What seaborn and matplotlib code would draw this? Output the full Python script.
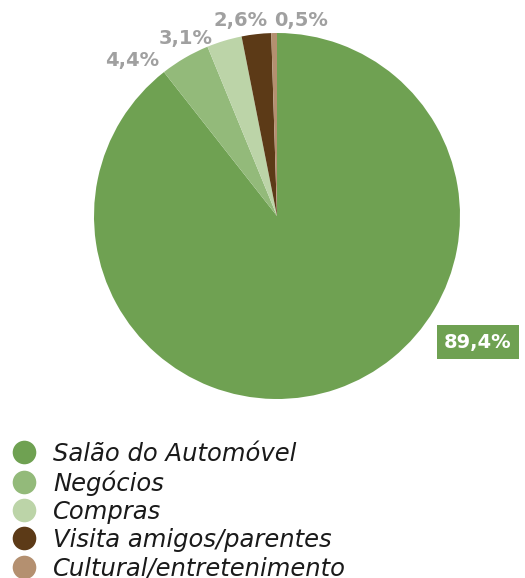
import matplotlib
matplotlib.use('Agg')
import matplotlib.pyplot as plt
from matplotlib.lines import Line2D
import seaborn as sns

# Data
categories = ['Salão do Automóvel', 'Negócios', 'Compras',
              'Visita amigos/parentes', 'Cultural/entretenimento']
shares = [89.4, 4.4, 3.1, 2.6, 0.5]
share_labels = ['89,4%', '4,4%', '3,1%', '2,6%', '0,5%']
colors = ['#6fa152', '#93ba7a', '#bcd4a8', '#5c3a17', '#b49070']

sns.set_style('white')
plt.rcParams['font.family'] = ['DejaVu Sans']

fig = plt.figure(figsize=(5.25, 5.78), dpi=100)
ax = fig.add_axes([94 / 525, 1 - 399 / 578, 366 / 525, 366 / 578])

wedges, _ = ax.pie(shares, colors=colors, startangle=90, counterclock=False,
                   radius=1, wedgeprops=dict(linewidth=0))
ax.set_xlim(-1, 1)
ax.set_ylim(-1, 1)
ax.set_aspect('equal')
ax.axis('off')

# small slice labels (gray, bold), placed around the top
label_pos = {1: (-0.79, 0.85), 2: (-0.50, 0.97), 3: (-0.20, 1.07), 4: (0.13, 1.07)}
for i, (x, y) in label_pos.items():
    ax.text(x, y, share_labels[i], ha='center', va='center', fontsize=14,
            fontweight='bold', color='#a0a0a0', clip_on=False)

# big slice label on green box
ax.text(1.098, -0.689, share_labels[0], ha='center', va='center', fontsize=14,
        fontweight='bold', color='white', clip_on=False,
        bbox=dict(boxstyle='square,pad=0.38', fc=colors[0], ec='none'))

# legend
handles = [Line2D([0], [0], marker='o', linestyle='none', markersize=17,
                  markerfacecolor=c, markeredgecolor='none') for c in colors]
leg = fig.legend(handles, categories, loc='upper left',
                 bbox_to_anchor=(13 / 525, 1 - 442 / 578), frameon=False,
                 prop=dict(size=17.5, style='italic'), handletextpad=0.72,
                 labelspacing=0.17, handlelength=0.92, borderaxespad=0,
                 borderpad=0)
for t in leg.get_texts():
    t.set_color('#1a1a1a')

fig.savefig('out.png', dpi=100)
